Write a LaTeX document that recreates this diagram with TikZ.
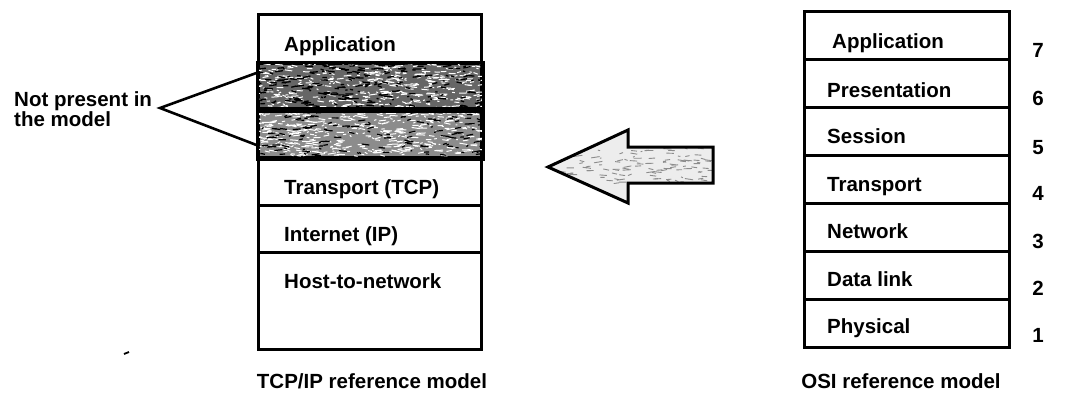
\documentclass[tikz,border=0pt]{standalone}
\usepackage{fontspec}
\setmainfont{Liberation Sans}
\usetikzlibrary{calc}
\newcommand\labelfont{\fontsize{20.5}{23}\selectfont\bfseries}
% random short strokes inside a rectangle: x0, y0, width, height, count, colour, line width
\newcommand\speckle[7]{%
  \foreach \k in {1,...,#5}{%
    \pgfmathsetmacro\sx{#1+rnd*#3}%
    \pgfmathsetmacro\sy{#2+rnd*#4}%
    \pgfmathsetmacro\sl{1.5+rnd*7}%
    \pgfmathsetmacro\sd{rnd*3-1.5}%
    \draw[#6, line width=#7] (\sx,\sy) -- ++(\sl,\sd);
  }%
}
\begin{document}
\begin{tikzpicture}[x=1pt, y=-1pt,
  layer/.style={draw, line width=3pt, rectangle, inner sep=0pt, anchor=north west, minimum height=#1},
  tcprow/.style={layer=#1, minimum width=223pt},
  osirow/.style={layer=#1, minimum width=205pt},
  lbl/.style={anchor=base west, inner sep=0pt, font=\labelfont},
  num/.style={anchor=base, inner sep=0pt, font=\labelfont},
  caption/.style={anchor=base, inner sep=0pt, font=\labelfont},
  callout/.style={line width=2.6pt, line join=miter},
  bigarrow/.style={line width=3pt, line join=miter}
]
\useasboundingbox (0,0) rectangle (1071,394);

% ---------- TCP/IP stack ----------
\node[tcprow=49pt] (tapp) at (257,13) {};
\node[tcprow=46pt, fill=black!60] (tgap1) at (257,62) {};
\node[tcprow=48pt, fill=black!45] (tgap2) at (257,108) {};
\node[tcprow=48pt] (ttrans) at (257,156) {};
\node[tcprow=47pt] (tnet) at (257,204) {};
\node[tcprow=97pt] (thost) at (257,251) {};

% texture of the two missing layers
\pgfmathsetseed{42}
\begin{scope}
  \clip (tgap1.north west) rectangle (tgap1.south east);
  \speckle{252}{60}{228}{48}{420}{white}{1pt}
  \speckle{252}{60}{228}{48}{220}{black}{1.3pt}
\end{scope}
\begin{scope}
  \clip (tgap2.north west) rectangle (tgap2.south east);
  \speckle{252}{106}{228}{50}{480}{white}{1pt}
  \speckle{252}{106}{228}{50}{160}{black}{1.2pt}
\end{scope}
% borders over the texture
\draw[line width=3pt] (tgap1.north west) rectangle (tgap1.south east);
\draw[line width=3pt] (tgap2.north west) rectangle (tgap2.south east);

\node[lbl] (ltapp) at (284,51) {Application};
\node[lbl] (lttrans) at (284,194) {Transport (TCP)};
\node[lbl] (ltnet) at (284,241) {Internet (IP)};
\node[lbl] (lthost) at (284,288) {Host-to-network};

\node[caption] (tcap) at (372,388) {TCP/IP reference model};
\draw[line width=1.8pt] (124,354) -- (129,352);

% ---------- callout ----------
\node[lbl] (np1) at (14,106) {Not present in};
\node[lbl] (np2) at (14,126) {the model};
\coordinate (apex) at (160,108);
\draw[callout] ($(tgap1.north west)!0.22!(tgap1.south west)$) -- (apex)
  -- ($(tgap2.north west)!0.73!(tgap2.south west)$);

% ---------- arrow ----------
\def\arrowpath{(548,167) -- (628,130) -- (628,147) -- (713,147) -- (713,183)
  -- (628,183) -- (628,203) -- cycle}
\fill[black!7] \arrowpath;
\begin{scope}
  \clip \arrowpath;
  \speckle{560}{148}{150}{36}{110}{black!45}{0.9pt}
\end{scope}
\draw[bigarrow] \arrowpath;

% ---------- OSI stack ----------
\node[osirow=48pt] (o7) at (803,10) {};
\node[osirow=48pt] (o6) at (803,58) {};
\node[osirow=48pt] (o5) at (803,106) {};
\node[osirow=48pt] (o4) at (803,154) {};
\node[osirow=48pt] (o3) at (803,202) {};
\node[osirow=48pt] (o2) at (803,250) {};
\node[osirow=48pt] (o1) at (803,298) {};

\node[lbl] (l7) at (832,48) {Application};
\node[lbl] (l6) at (827,97) {Presentation};
\node[lbl] (l5) at (827,143) {Session};
\node[lbl] (l4) at (827,191) {Transport};
\node[lbl] (l3) at (827,238) {Network};
\node[lbl] (l2) at (827,286) {Data link};
\node[lbl] (l1) at (827,333) {Physical};

\node[num] (n7) at (1038,57) {7};
\node[num] (n6) at (1038,105) {6};
\node[num] (n5) at (1038,154) {5};
\node[num] (n4) at (1038,200) {4};
\node[num] (n3) at (1038,248) {3};
\node[num] (n2) at (1038,295) {2};
\node[num] (n1) at (1038,342) {1};

\node[caption] (ocap) at (901,388) {OSI reference model};
\end{tikzpicture}
\end{document}
